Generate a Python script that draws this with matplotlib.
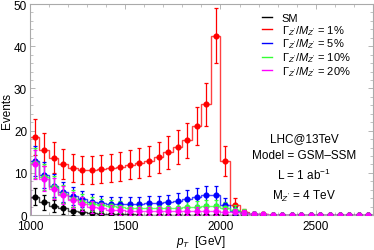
import numpy as np
import matplotlib
matplotlib.use('Agg')
import matplotlib.pyplot as plt
from matplotlib.ticker import MultipleLocator

plt.rcParams['font.family'] = ['Liberation Sans', 'DejaVu Sans']
plt.rcParams['mathtext.fontset'] = 'custom'
plt.rcParams['mathtext.rm'] = 'Liberation Sans'
plt.rcParams['mathtext.it'] = 'Liberation Sans:italic'

# 50 GeV bins from 1000 to 2800
edges = np.arange(1000, 2801, 50)

sm = [4.4, 3.0, 2.2, 1.6, 1.0, 0.7, 0.5, 0.35, 0.25, 0.2, 0.15, 0.12,
      0.1, 0.08, 0.07, 0.06, 0.05, 0.05, 0.05, 0.05, 0.05, 0.04, 0.04, 0.04,
      0.04, 0.04, 0.04, 0.04, 0.04, 0.04, 0.04, 0.04, 0.04, 0.04, 0.04, 0.04]
w1 = [18.5, 15.5, 13.6, 12.1, 11.1, 10.7, 10.7, 10.9, 11.2, 11.5, 11.9, 12.4,
      12.8, 13.7, 14.9, 16.1, 17.7, 21.1, 26.2, 42.5, 12.8, 2.4, 0.7, 0.3,
      0.15, 0.1, 0.08, 0.06, 0.05, 0.05, 0.05, 0.05, 0.05, 0.05, 0.05, 0.05]
w5 = [12.8, 9.4, 7.0, 5.5, 4.6, 3.8, 3.2, 2.9, 2.7, 2.6, 2.6, 2.7,
      2.8, 2.9, 3.1, 3.4, 3.9, 4.4, 4.7, 4.8, 2.5, 1.0, 0.4, 0.2,
      0.1, 0.07, 0.05, 0.05, 0.05, 0.05, 0.05, 0.05, 0.05, 0.05, 0.05, 0.05]
w10 = [12.4, 9.0, 6.6, 5.0, 3.9, 3.2, 2.7, 2.3, 2.1, 1.9, 1.8, 1.7,
       1.7, 1.7, 1.8, 1.8, 1.9, 2.0, 2.1, 2.2, 1.8, 1.3, 0.6, 0.3,
       0.15, 0.08, 0.05, 0.05, 0.05, 0.05, 0.05, 0.05, 0.05, 0.05, 0.05, 0.05]
w20 = [12.0, 8.6, 6.2, 4.7, 3.5, 2.6, 2.0, 1.6, 1.3, 1.1, 1.0, 0.9,
       0.9, 0.9, 0.9, 0.9, 0.9, 0.9, 0.9, 0.9, 0.8, 0.7, 0.5, 0.3,
       0.2, 0.1, 0.06, 0.06, 0.06, 0.06, 0.06, 0.06, 0.06, 0.06, 0.06, 0.06]

labels = ['SM',
          r'$\Gamma_{Z^{\prime}}/M_{Z^{\prime}}$ = 1%',
          r'$\Gamma_{Z^{\prime}}/M_{Z^{\prime}}$ = 5%',
          r'$\Gamma_{Z^{\prime}}/M_{Z^{\prime}}$ = 10%',
          r'$\Gamma_{Z^{\prime}}/M_{Z^{\prime}}$ = 20%']
colors = ['black', '#ff0000', '#0000ff', '#33ff33', '#ff00ff']
series = [sm, w1, w5, w10, w20]


def main():
    centers = 0.5 * (edges[:-1] + edges[1:])
    fig = plt.figure(figsize=(3.74, 2.51), dpi=100)
    ax = fig.add_axes([0.080, 0.139, 0.917, 0.841])

    order = [1, 2, 3, 4, 0]
    for i in order:
        v = np.array(series[i])
        ax.stairs(v, edges, color=colors[i], lw=1.0, alpha=0.75, zorder=2 + i * 0.1)
        ax.errorbar(centers, v, yerr=np.sqrt(v), fmt='o', color=colors[i],
                    ms=3.4, elinewidth=0.9, capsize=1.5, capthick=0.9,
                    zorder=3 + i * 0.1)

    handles = [plt.Line2D([], [], color=c, lw=1.0) for c in colors]
    ax.legend(handles, labels, loc='upper right', bbox_to_anchor=(0.955, 0.99),
              frameon=False, fontsize=8, handlelength=0.9, handletextpad=0.9,
              labelspacing=0.0, borderaxespad=0.2)

    txt = ('LHC@13TeV\nModel = GSM\u2013SSM\nL = 1 ab$^{-1}$\n'
           r'M$_{Z^{\prime}}$ = 4 TeV')
    ax.text(0.80, 0.225, txt, transform=ax.transAxes, ha='center', va='center',
            fontsize=8.5, linespacing=1.5)

    ax.set_xlim(1000, 2800)
    ax.set_ylim(0, 50)
    ax.xaxis.set_major_locator(MultipleLocator(500))
    ax.xaxis.set_minor_locator(MultipleLocator(100))
    ax.yaxis.set_major_locator(MultipleLocator(10))
    ax.yaxis.set_minor_locator(MultipleLocator(2))
    ax.tick_params(which='both', direction='in', top=True, right=True,
                   color='#aaaaaa', labelsize=8.5, pad=2)
    ax.tick_params(axis='x', which='major', pad=3.5)
    ax.tick_params(which='major', length=3.5, width=0.6)
    ax.tick_params(which='minor', length=2, width=0.5)
    for s in ax.spines.values():
        s.set_color('#aaaaaa')
        s.set_linewidth(0.8)

    ax.set_xlabel(r'$p_T$  [GeV]', fontsize=8.5, labelpad=1)
    ax.set_ylabel('Events', fontsize=8.5, labelpad=1)

    fig.savefig('out.png', dpi=100)


if __name__ == "__main__":
    main()
